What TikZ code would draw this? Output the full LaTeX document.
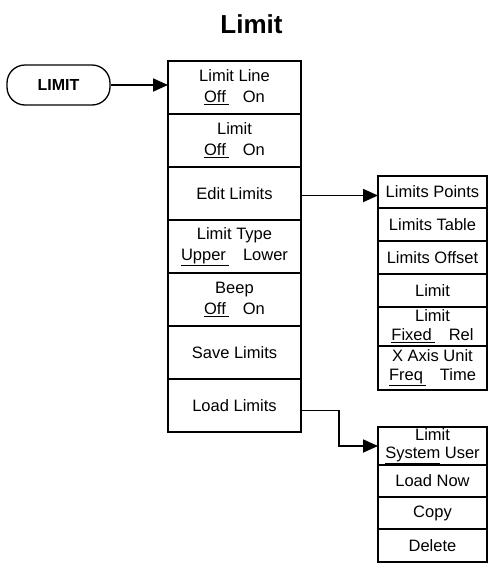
\documentclass[tikz,border=0pt]{standalone}
\usepackage{fontspec}
\setmainfont{Liberation Sans}
\usetikzlibrary{arrows.meta, positioning, calc}

% 选项: 第一个带下划线
\newcommand{\onoff}[2]{\underline{#1\kern3pt}\hspace{14pt}#2}

\begin{document}
\begin{tikzpicture}[
        % 定义样式
        x=1pt, y=-1pt,
        font=\fontsize{16.5}{21}\selectfont,
        softkey/.style={
            draw, rectangle, minimum width=133pt, minimum height=53pt,
            inner sep=0pt, outer sep=0pt, align=center, line width=2.2pt
        },
        subkey/.style={softkey, minimum width=109pt, font=\fontsize{16.5}{19}\selectfont},
        hardkey/.style={
            draw, rectangle, rounded corners=18pt, minimum width=103pt, minimum height=40pt,
            line width=1.3pt, font=\fontsize{16}{20}\selectfont\bfseries
        },
        arrow/.style={-{Triangle[length=15pt, width=13pt]}, line width=1.8pt}
    ]

    \useasboundingbox (0,0) rectangle (493,563);

    % 1. 标题和硬键
    \node (title) [anchor=base, font=\fontsize{26}{30}\selectfont\bfseries] at (251.5,33) {Limit};
    \node (key) [hardkey] at (58.5,85) {LIMIT};

    % 2. 主菜单
    \node (lline) [softkey, anchor=north] at (234.5,61) {Limit Line\\\onoff{Off}{On}};
    \node (lstate) [softkey, below=0pt of lline] {Limit\\\onoff{Off}{On}};
    \node (edit) [softkey, below=0pt of lstate] {Edit Limits};
    \node (ltype) [softkey, below=0pt of edit] {Limit Type\\\onoff{Upper}{Lower}};
    \node (beep) [softkey, below=0pt of ltype] {Beep\\\onoff{Off}{On}};
    \node (save) [softkey, below=0pt of beep] {Save Limits};
    \node (load) [softkey, below=0pt of save] {Load Limits};

    % 3. Edit Limits 子菜单
    \node (points) [subkey, anchor=north, minimum height=32pt] at (432.5,176) {Limits Points};
    \node (table) [subkey, minimum height=33pt, below=0pt of points] {Limits Table};
    \node (offset) [subkey, minimum height=33pt, below=0pt of table] {Limits Offset};
    \node (rlimit) [subkey, minimum height=33pt, below=0pt of offset] {Limit};
    \node (fixrel) [subkey, minimum height=39pt, below=0pt of rlimit] {Limit\\\onoff{Fixed}{Rel}};
    \node (xunit) [subkey, minimum height=44pt, below=0pt of fixrel] {X Axis Unit\\\onoff{Freq}{Time}};

    % 4. Load Limits 子菜单
    \node (sysuser) [subkey, anchor=north, minimum height=38pt, font=\fontsize{16.5}{18}\selectfont] at (432.5,427) {Limit\\\underline{System}\ User};
    \node (loadnow) [subkey, minimum height=32pt, below=0pt of sysuser] {Load Now};
    \node (copy) [subkey, minimum height=32pt, below=0pt of loadnow] {Copy};
    \node (delete) [subkey, minimum height=33pt, below=0pt of copy] {Delete};

    % 5. 连接线
    \draw[arrow] (key.east) -- (key.east -| lline.west);
    \draw[arrow] ([yshift=-2pt]edit.east) -- ([yshift=-2pt]edit.east -| points.west);
    \draw[arrow] ([yshift=-5pt]load.east) -- ++(38,0) |- (sysuser.west);

\end{tikzpicture}
\end{document}
